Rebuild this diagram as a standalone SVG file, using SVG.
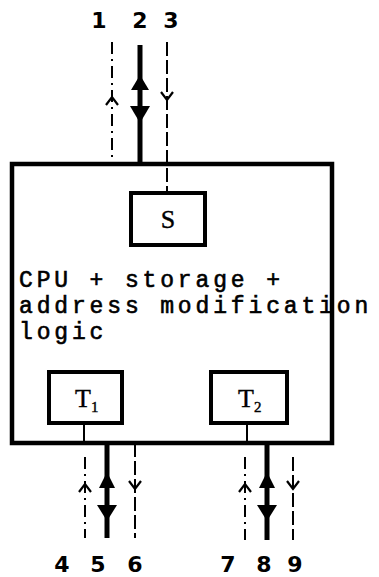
<svg xmlns="http://www.w3.org/2000/svg" width="379" height="577" viewBox="0 0 379 577">
<style>
.lbl{font-family:"DejaVu Sans","Liberation Sans",sans-serif;font-size:22px;font-weight:bold;fill:#000;text-anchor:middle}
.mono{font-family:"Liberation Mono","DejaVu Sans Mono",monospace;font-size:23px;letter-spacing:3.85px;fill:#000;stroke:#000;stroke-width:0.6}
.inner{font-family:"Liberation Serif",serif;font-size:26px;fill:#000;stroke:#000;stroke-width:0.4}
.box{fill:#fff;stroke:#000}
.thin{stroke:#000;stroke-width:2;fill:none}
.dd{stroke-dasharray:12 5 2 5}
.da{stroke-dasharray:14 4}
.thick{stroke:#000;stroke-width:5;fill:none}
.chev{stroke:#000;stroke-width:2.2;fill:none}
.head{fill:#000}
</style>
<g id="main">
<rect class="box" x="12" y="164" width="320" height="279" stroke-width="4.5"/>
<text class="mono" x="19" y="287">CPU + storage +</text>
<text class="mono" x="19" y="313">address modification</text>
<text class="mono" x="19" y="339">logic</text>
</g>
<g id="S">
<rect class="box" x="131" y="193" width="74" height="52" stroke-width="4"/>
<text class="inner" x="168" y="228" text-anchor="middle">S</text>
</g>
<g id="T1">
<rect class="box" x="49" y="372" width="73" height="51" stroke-width="4"/>
<text class="inner" x="75" y="407">T<tspan font-size="15" dy="5">1</tspan></text>
</g>
<g id="T2">
<rect class="box" x="211" y="372" width="76" height="51" stroke-width="4"/>
<text class="inner" x="238" y="407">T<tspan font-size="15" dy="5">2</tspan></text>
</g>
<g id="connectors">
<line class="thin dd" x1="112" y1="42" x2="112" y2="164"/>
<path class="chev" d="M106,105 L112,97 L118,105"/>
<line class="thick" x1="140" y1="45" x2="140" y2="164"/>
<path class="head" d="M140,75 L149,90 L131,90 Z"/>
<path class="head" d="M130,106 L150,106 L140,123 Z"/>
<line class="thin da" x1="167" y1="42" x2="167" y2="193"/>
<path class="chev" d="M161,92 L167,100 L173,92"/>
<line class="thin" x1="84" y1="423" x2="84" y2="443"/>
<line class="thin" x1="247" y1="423" x2="247" y2="443"/>
<line class="thin dd" x1="85" y1="457" x2="85" y2="538"/>
<path class="chev" d="M79,492 L85,484 L91,492"/>
<line class="thick" x1="107" y1="443" x2="107" y2="538"/>
<path class="head" d="M107,472 L115,488 L99,488 Z"/>
<path class="head" d="M97,505 L117,505 L107,521 Z"/>
<line class="thin da" x1="135" y1="443" x2="135" y2="538"/>
<path class="chev" d="M129,481 L135,489 L141,481"/>
<line class="thin dd" x1="245" y1="457" x2="245" y2="540"/>
<path class="chev" d="M239,492 L245,484 L251,492"/>
<line class="thick" x1="267" y1="443" x2="267" y2="540"/>
<path class="head" d="M267,472 L275,488 L259,488 Z"/>
<path class="head" d="M257,505 L277,505 L267,521 Z"/>
<line class="thin da" x1="293" y1="457" x2="293" y2="540"/>
<path class="chev" d="M287,481 L293,489 L299,481"/>
</g>
<g id="labels">
<text class="lbl" x="99" y="28">1</text>
<text class="lbl" x="140" y="28">2</text>
<text class="lbl" x="171" y="28">3</text>
<text class="lbl" x="62" y="572">4</text>
<text class="lbl" x="98" y="572">5</text>
<text class="lbl" x="135" y="572">6</text>
<text class="lbl" x="228" y="572">7</text>
<text class="lbl" x="264" y="572">8</text>
<text class="lbl" x="295" y="572">9</text>
</g>
</svg>
